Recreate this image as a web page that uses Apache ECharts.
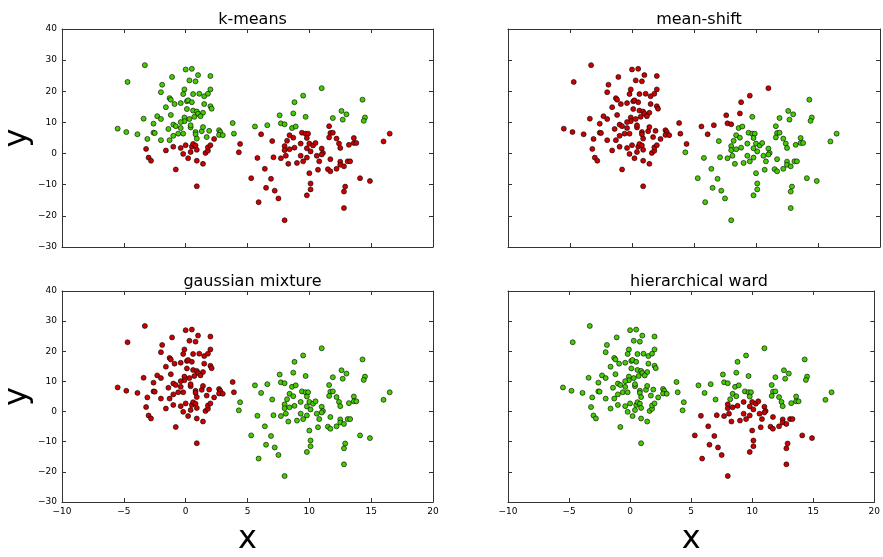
<!DOCTYPE html>
<html>
<head>
<meta charset="utf-8">
<title>clustering comparison</title>
<script src="https://cdn.jsdelivr.net/npm/echarts@6/dist/echarts.min.js"></script>
<style>
  html, body { margin: 0; padding: 0; background: #fff; }
  #chart { width: 883px; height: 557px; }
</style>
</head>
<body>
<div id="chart"></div>
<script>
// point coordinates (same points in all four panels)
// groups: A left/top, B left/bottom, C right/top, D1 right/middle, D2 right/bottom
const pointX = [
  // A
  -3.3, -4.7, 0.0, 0.5, -1.1, 1.0, 2.0, 0.3, 0.8, -1.9,
  -2.0, -0.1, -0.2, 0.6, 1.1, 1.5, 1.8, 2.0, -1.3, -1.2,
  -0.9, -0.4, 0.1, 0.2, 0.5, 1.5, 2.0, 2.1, -1.6, 0.1,
  0.6, 0.9, 1.0, 1.4, 1.2, 0.7, 0.3, -0.1, -0.1, -0.4,
  -1.2, -2.3, -2.0, -3.4, -2.6, -0.4, 3.8, -5.5, -4.8, -3.9,
  -3.1, -2.6, -2.5, -2.0, -1.4, -1.3, -1.0, -0.6, -0.2, -1.0,
  -0.8, 0.4, 0.4, 0.8, 0.8, 0.9, 1.3, 1.4, 1.7, 1.9,
  2.7, 2.8, 2.7, 3.0, 3.9,
  // B
  -3.2, -3.0, -2.8, -1.6, -1.0, -0.4, 0.0, -0.2, 0.2, 0.4,
  0.5, 0.6, 0.8, 0.9, 1.6, 1.8, 1.8, 2.0, 2.3, 4.4,
  4.3, 0.9, 1.4, -0.8, 0.9,
  // C
  11.0, 9.5, 8.8, 14.3, 7.6, 8.7, 9.7, 12.6, 13.0, 11.9,
  12.7, 14.5, 14.4, 5.6, 6.6, 7.7, 8.0, 8.6, 8.9,
  // D1
  6.1, 7.0, 8.2, 8.4, 8.7, 9.4, 9.7, 9.9, 9.8, 11.6,
  11.7, 11.9, 11.6, 12.2, 13.6, 13.6, 13.8, 16.0, 16.5, 12.4,
  12.5, 13.2,
  // D2
  9.3, 10.0, 10.3, 10.5, 9.8, 10.1, 11.0, 11.1, 11.0, 8.0,
  8.0, 8.4, 8.8, 8.1, 7.7, 7.1, 9.3, 9.8, 10.6, 10.8,
  11.7, 12.5, 13.1, 13.3, 12.5, 12.8, 12.2, 11.5, 11.7, 10.7,
  9.5, 9.0, 8.3, 5.8, 6.4, 10.0, 5.3, 6.9, 10.1, 10.1,
  9.8, 6.5, 7.2, 7.5, 12.9, 12.8, 14.1, 14.9, 5.9, 12.8,
  8.0
];
const pointY = [
  // A
  28.4, 23.0, 27.0, 27.2, 24.6, 25.2, 24.9, 23.5, 23.2, 22.1,
  19.7, 20.6, 19.1, 19.1, 19.2, 18.4, 19.2, 20.6, 17.8, 17.3,
  15.9, 16.2, 16.8, 17.1, 16.5, 15.9, 15.2, 14.4, 14.9, 14.3,
  13.8, 13.5, 12.8, 13.1, 12.0, 11.8, 11.1, 11.6, 10.4, 10.1,
  12.4, 12.0, 11.1, 11.2, 9.6, 8.2, 9.8, 8.0, 6.9, 6.2,
  4.7, 6.7, 6.6, 4.3, 7.9, 4.3, 5.7, 6.4, 6.4, 9.3,
  8.8, 8.4, 9.1, 6.9, 6.2, 4.8, 7.2, 8.5, 5.3, 7.3,
  7.5, 6.9, 6.0, 5.9, 6.4,
  // B
  1.5, -1.3, -2.3, 1.0, 2.2, 1.8, 2.7, -0.1, -1.5, 0.5,
  2.2, 3.1, 2.6, 1.2, 0.2, 0.9, 2.0, 2.7, 4.7, 3.1,
  0.4, -2.3, -3.3, -5.1, -10.5,
  // C
  21.0, 18.6, 16.5, 17.3, 12.3, 12.9, 11.8, 13.7, 12.6, 11.4,
  10.9, 11.6, 10.5, 8.7, 9.1, 9.7, 9.4, 8.2, 8.7,
  // D1
  6.2, 4.0, 4.1, 5.9, 5.1, 6.7, 6.4, 6.4, 5.0, 8.8,
  6.6, 6.7, 5.2, 4.8, 5.0, 3.4, 3.4, 3.9, 6.4, 3.2,
  1.8, 2.8,
  // D2
  3.2, 3.2, 2.6, 3.4, 1.7, 0.7, 1.6, 0.2, -0.3, 2.4,
  1.1, 1.4, 1.9, -0.7, -1.5, -1.2, -0.7, -1.3, -0.7, -2.5,
  -1.8, -2.6, -2.5, -2.5, -3.6, -4.1, -4.9, -5.0, -5.7, -5.2,
  -2.5, -3.0, -3.3, -1.4, -4.9, -6.3, -7.9, -8.1, -9.6, -11.5,
  -13.4, -11.0, -11.9, -14.4, -10.6, -12.2, -7.9, -8.8, -15.6, -17.5,
  -21.4
];

// cluster label per point (0 = red, 1 = green), one string per group A, B, C, D1, D2
const kmeansLabels = [
  '11111 11111 11111 11111 11111 11111 11111 11111 11111 11111 11111 11111 11111 11111 11111',
  '00000 00000 00000 00000 00000',
  '11111 11111 11111 1111',
  '00000 00000 00000 00000 00',
  '00000 00000 00000 00000 00000 00000 00000 00000 00000 00000 0'
];
const meanShiftLabels = [
  '00000 00000 00000 00000 00000 00000 00000 00000 00000 00000 00000 00000 00000 00000 00000',
  '00000 00000 00000 00000 10000',
  '00010 01111 11100 0011',
  '01111 11111 11111 11111 11',
  '11111 11111 11111 11111 11111 11111 11111 11111 11111 11111 1'
];
const gmmLabels = [
  '00000 00000 00000 00000 00000 00000 00000 00000 00000 00000 00000 00000 00000 00000 00000',
  '00000 00000 00000 00001 10000',
  '11111 11111 11111 1111',
  '11111 11111 11111 11111 11',
  '11111 11111 11111 11111 11111 11111 11111 11111 11111 11111 1'
];
const wardLabels = [
  '11111 11111 11111 11111 11111 11111 11111 11111 11111 11111 11111 11111 11111 11111 11111',
  '11111 11111 11111 11111 11111',
  '11111 11111 11111 1111',
  '11111 11111 11111 11111 11',
  '00000 00000 00000 00000 00000 00000 00000 00000 00000 00000 0'
];

const panelTitles = ['k-means', 'mean-shift', 'gaussian mixture', 'hierarchical ward'];
const panelLabels = [kmeansLabels, meanShiftLabels, gmmLabels, wardLabels];
const clusterColors = ['#cc0000', '#44cc00'];

const xTicks = { min: -10, max: 20, interval: 5 };
const yTicks = { min: -30, max: 40, interval: 10 };

const FONT = 'DejaVu Sans';

function labelString(groups) {
  const s = groups.join('').replace(/\s/g, '');
  if (s.length !== pointX.length) throw new Error('label count ' + s.length + ' vs ' + pointX.length);
  return s;
}

function tickText(v) {
  return v < 0 ? '\u2212' + (-v) : String(v);
}

const chart = echarts.init(document.getElementById('chart'));

const grids = [
  { left: 62, top: 29, width: 371, height: 218 },
  { left: 508, top: 29, width: 372, height: 218 },
  { left: 62, top: 291, width: 371, height: 218 },
  { left: 508, top: 291, width: 372, height: 218 }
];

const axisLine = { show: true, onZero: false, lineStyle: { color: '#333', width: 1 } };
const axisTick = { show: true, inside: true, length: 4, lineStyle: { color: '#333', width: 1 } };

const xAxes = [], yAxes = [], series = [], titles = [];
grids.forEach((g, i) => {
  const bottomRow = i >= 2;
  const leftCol = i % 2 === 0;
  ['bottom', 'top'].forEach(pos => {
    const main = pos === 'bottom';
    xAxes.push({
      type: 'value', gridIndex: i, position: pos,
      min: xTicks.min, max: xTicks.max, interval: xTicks.interval,
      axisLine, axisTick, splitLine: { show: false },
      axisLabel: { show: main && bottomRow, formatter: tickText, color: '#000', fontSize: 9, fontFamily: FONT, margin: 5 },
      name: main && bottomRow ? 'x' : '',
      nameLocation: 'middle', nameGap: 22,
      nameTextStyle: { fontSize: 32, fontFamily: FONT, color: '#000' }
    });
  });
  ['left', 'right'].forEach(pos => {
    const main = pos === 'left';
    yAxes.push({
      type: 'value', gridIndex: i, position: pos,
      min: yTicks.min, max: yTicks.max, interval: yTicks.interval,
      axisLine, axisTick, splitLine: { show: false },
      axisLabel: { show: main && leftCol, formatter: tickText, color: '#000', fontSize: 9, fontFamily: FONT, margin: 5 },
      name: main && leftCol ? 'y' : '',
      nameLocation: 'middle', nameGap: 22, nameRotate: 90,
      nameTextStyle: { fontSize: 32, fontFamily: FONT, color: '#000' }
    });
  });
  titles.push({
    text: panelTitles[i],
    left: g.left + g.width / 2, top: g.top - 22,
    textAlign: 'center',
    textStyle: { fontSize: 16, fontWeight: 'normal', fontFamily: FONT, color: '#000' }
  });
  const labels = labelString(panelLabels[i]);
  series.push({
    type: 'scatter',
    xAxisIndex: i * 2, yAxisIndex: i * 2,
    symbol: 'circle', symbolSize: 5,
    itemStyle: { borderColor: '#000', borderWidth: 0.6, opacity: 1 },
    emphasis: { disabled: true },
    data: pointX.map((x, k) => ({
      value: [x, pointY[k]],
      itemStyle: { color: clusterColors[+labels[k]] }
    }))
  });
});

chart.setOption({
  backgroundColor: '#ffffff',
  animation: false,
  title: titles,
  grid: grids,
  xAxis: xAxes,
  yAxis: yAxes,
  series
});
</script>
</body>
</html>
